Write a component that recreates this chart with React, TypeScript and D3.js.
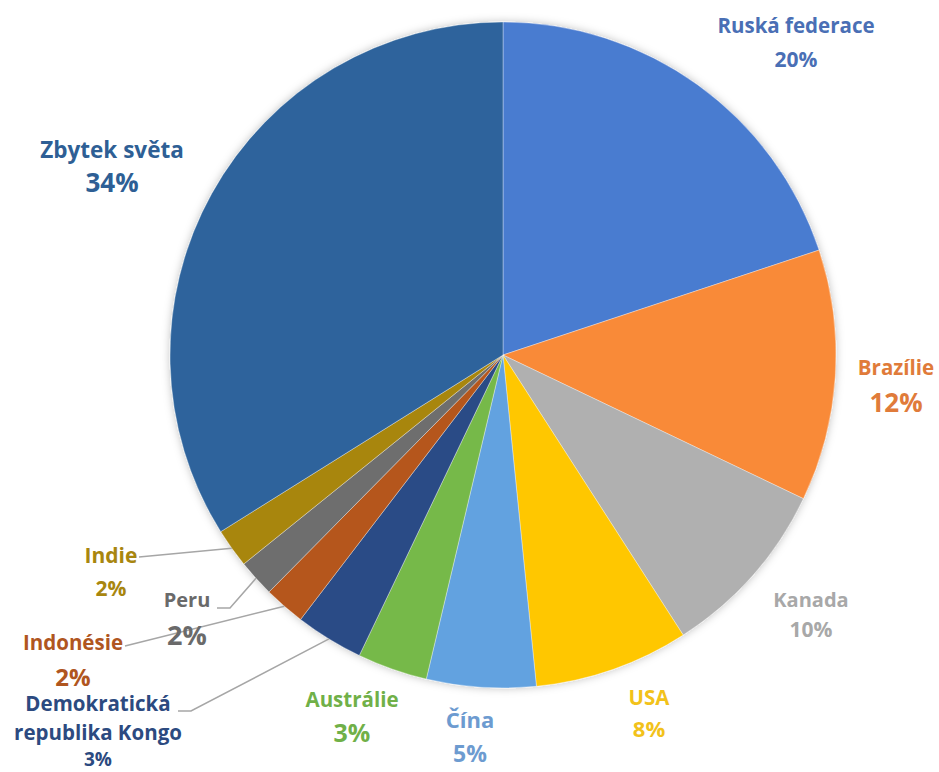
import * as d3 from "d3";

const W = 939;
const H = 772;

// slice shares (angles), printed labels as shown
const categories = [
  "Ruská federace",
  "Brazílie",
  "Kanada",
  "USA",
  "Čína",
  "Austrálie",
  "Demokratická\nrepublika Kongo",
  "Indonésie",
  "Peru",
  "Indie",
  "Zbytek světa",
];
const shares = [19.9, 12.2, 8.8, 7.5, 5.3, 3.4, 3.3, 2.0, 1.8, 1.9, 33.9];
const percentLabels = ["20%", "12%", "10%", "8%", "5%", "3%", "3%", "2%", "2%", "2%", "34%"];

const sliceColors = [
  "#4a7bd0", "#f98a38", "#b0b0b0", "#ffc700", "#62a2e0", "#76b94a",
  "#2b4c86", "#b5561a", "#6e6e6e", "#a8860f", "#2d649c",
];
const textColors = [
  "#4a6fb5", "#e07b3a", "#a8a8a8", "#f2c21a", "#6d9bd0", "#70b048",
  "#2c4a80", "#b0561f", "#6a6a6a", "#a8860f", "#2e5f95",
];

// label placement: centre x, baselines of name lines, baseline of percent, sizes
const labelLayout = [
  { x: 796, lines: [33], pct: 67, size: 20.5, pctSize: 21 },
  { x: 896, lines: [375], pct: 412, size: 20.5, pctSize: 26 },
  { x: 811, lines: [607], pct: 637, size: 20, pctSize: 21 },
  { x: 649, lines: [705], pct: 737, size: 20.5, pctSize: 22 },
  { x: 470, lines: [728], pct: 762, size: 22, pctSize: 23 },
  { x: 352, lines: [707], pct: 742, size: 20.5, pctSize: 25 },
  { x: 98, lines: [711, 740], pct: 766, size: 20.5, pctSize: 19 },
  { x: 73, lines: [650], pct: 686, size: 20.5, pctSize: 24 },
  { x: 187, lines: [607], pct: 645, size: 20, pctSize: 27 },
  { x: 111, lines: [563], pct: 596, size: 21, pctSize: 21 },
  { x: 112, lines: [158], pct: 192, size: 22.5, pctSize: 26 },
];

// leader line start points (label side), index -> points before reaching slice
const leaders: { [k: number]: [number, number][] } = {
  6: [[178, 711], [191, 711]],
  7: [[125, 646]],
  8: [[217, 608], [230, 608]],
  9: [[139, 557]],
};

const cx = 503;
const cy = 355;
const radius = 333;

const App = () => {
  const pie = d3.pie<number>().sort(null).value((d) => d);
  const arcs = pie(shares);
  const arc = d3.arc<d3.PieArcDatum<number>>().innerRadius(0).outerRadius(radius);
  const edge = d3.arc<d3.PieArcDatum<number>>().innerRadius(radius).outerRadius(radius);

  return (
    <svg
      width={W}
      height={H}
      style={{ position: "absolute", left: 0, top: 0, background: "#fff" }}
      fontFamily="'Open Sans', sans-serif"
      fontWeight={700}
    >
      <defs>
        <filter id="glow" x="-10%" y="-10%" width="120%" height="120%">
          <feDropShadow dx="0" dy="0" stdDeviation="4" floodColor="#000" floodOpacity="0.25" />
        </filter>
      </defs>
      <g transform={`translate(${cx},${cy})`} filter="url(#glow)">
        {arcs.map((a, i) => (
          <path
            key={i}
            d={arc(a) ?? undefined}
            fill={sliceColors[i]}
            stroke="#fff"
            strokeOpacity={0.35}
            strokeWidth={1}
          />
        ))}
      </g>
      <g>
        {Object.keys(leaders).map((k) => {
          const i = +k;
          const [ex, ey] = edge.centroid(arcs[i]);
          const pts = [...leaders[i], [cx + ex, cy + ey]] as [number, number][];
          return (
            <path
              key={k}
              d={d3.line()(pts) ?? undefined}
              fill="none"
              stroke="#a6a6a6"
              strokeWidth={1.5}
            />
          );
        })}
      </g>
      <g textAnchor="middle">
        {categories.map((c, i) => {
          const L = labelLayout[i];
          return (
            <g key={i} fill={textColors[i]}>
              {c.split("\n").map((line, j) => (
                <text key={j} x={L.x} y={L.lines[j]} fontSize={L.size}>
                  {line}
                </text>
              ))}
              <text x={L.x} y={L.pct} fontSize={L.pctSize}>
                {percentLabels[i]}
              </text>
            </g>
          );
        })}
      </g>
    </svg>
  );
};

export default App;
